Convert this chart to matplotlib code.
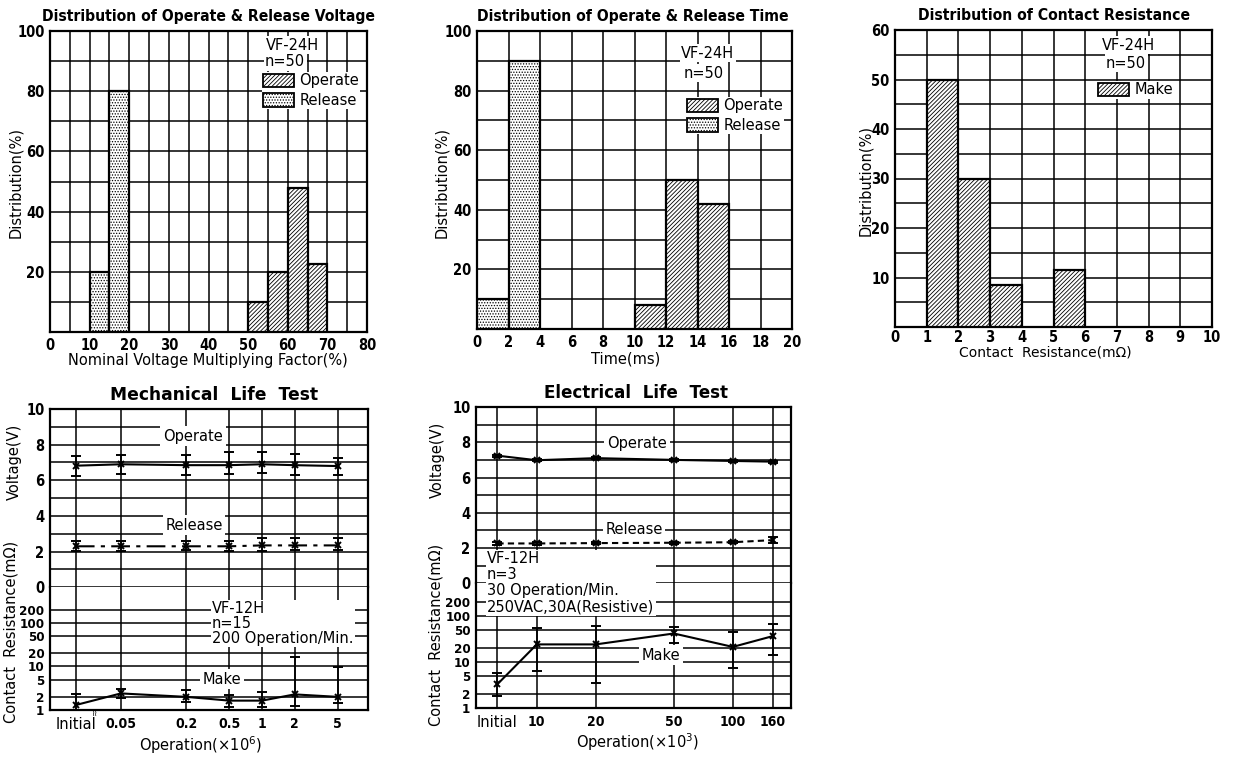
import os
import matplotlib
matplotlib.use('Agg')
import matplotlib.pyplot as plt
import matplotlib.font_manager as fm
from matplotlib.font_manager import FontProperties
from matplotlib.patches import Patch
from matplotlib.ticker import NullLocator, FixedLocator, MultipleLocator
import numpy as np

# ---------------- data ----------------
# Distribution of Operate & Release Voltage
volt_release_bins = [10, 15]
volt_release = [20, 80]
volt_operate_bins = [50, 55, 60, 65]
volt_operate = [10, 20, 48, 22.5]
volt_bin_width = 5

# Distribution of Operate & Release Time
time_release_bins = [0, 2]
time_release = [10, 90]
time_operate_bins = [10, 12, 14]
time_operate = [8, 50, 42]
time_bin_width = 2

# Distribution of Contact Resistance
res_bins = [1, 2, 3, 5]
res_make = [50, 30, 8.5, 11.5]
res_bin_width = 1

# Mechanical Life Test
mech_labels = ['Initial', '0.05', '0.2', '0.5', '1', '2', '5']
mech_x = [0.0192, 0.05, 0.2, 0.5, 1, 2, 5]
mech_op = [6.82, 6.9, 6.85, 6.85, 6.9, 6.85, 6.8]
mech_op_lo = [6.27, 6.35, 6.31, 6.35, 6.39, 6.31, 6.31]
mech_op_hi = [7.38, 7.43, 7.4, 7.57, 7.6, 7.47, 7.25]
mech_rel = [2.3, 2.3, 2.3, 2.3, 2.35, 2.35, 2.35]
mech_rel_lo = [2.05, 2.05, 2.1, 2.05, 2.05, 2.1, 2.1]
mech_rel_hi = [2.6, 2.6, 2.6, 2.6, 2.75, 2.77, 2.77]
mech_make = [1.3, 2.4, 2.0, 1.64, 1.64, 2.28, 2.0]
mech_make_lo = [1.0, 1.85, 1.55, 1.2, 1.2, 1.23, 1.47]
mech_make_hi = [2.28, 3.1, 2.8, 2.2, 2.6, 16, 9.8]

# Electrical Life Test
elec_labels = ['Initial', '10', '20', '50', '100', '160']
elec_x = [6.3, 10, 20, 50, 100, 160]
elec_op = [7.24, 6.98, 7.1, 7.0, 6.94, 6.9]
elec_op_lo = [7.18, 6.92, 7.05, 6.95, 6.88, 6.84]
elec_op_hi = [7.3, 7.04, 7.15, 7.05, 7.0, 6.96]
elec_rel = [2.26, 2.26, 2.28, 2.3, 2.33, 2.45]
elec_rel_lo = [2.2, 2.2, 2.22, 2.24, 2.27, 2.3]
elec_rel_hi = [2.32, 2.32, 2.34, 2.36, 2.39, 2.64]
elec_make = [3.27, 23.8, 23.8, 41, 21, 36]
elec_make_lo = [1.8, 6.3, 3.5, 26, 7.5, 14]
elec_make_hi = [5.6, 53, 60, 56, 45, 65]

# ---------------- fonts ----------------
plt.rcParams['font.family'] = ['DejaVu Sans']
plt.rcParams['hatch.linewidth'] = 0.6


def find_condensed_bold():
    prefs = ['dejavusanscondensed-bold', 'liberationsansnarrow-bold', 'robotocondensed-bold',
             'opensans_condensed-bold', 'opensanscondensed-bold']
    files = [f.fname for f in fm.fontManager.ttflist]
    base = {os.path.basename(p).lower().replace(' ', ''): p for p in files}
    for pref in prefs:
        for b, p in base.items():
            if b.startswith(pref) and 'italic' not in b and 'oblique' not in b:
                return p
    for b, p in base.items():
        if ('condensed' in b or 'narrow' in b) and 'bold' in b and 'italic' not in b \
                and 'oblique' not in b and 'semi' not in b and 'extra' not in b:
            return p
    return None


COND_PATH = find_condensed_bold()


def cond_fp(size):
    if COND_PATH:
        return FontProperties(fname=COND_PATH, size=size)
    return FontProperties(family='DejaVu Sans', weight='bold', size=size * 0.85)


W, H = 1233, 757
fig = plt.figure(figsize=(W / 100, H / 100), dpi=100)
renderer = fig.canvas.get_renderer()
GRID_LW = 1.1


def rect(l, t, r, b):
    return [l / W, 1 - b / H, (r - l) / W, (b - t) / H]


def fx(px):
    return px / W


def fy(py):
    return 1 - py / H


def fit_title(x, y, s, target_w, fp):
    t = fig.text(fx(x), fy(y), s, ha='center', va='center', fontproperties=fp)
    w = t.get_window_extent(renderer).width
    fp2 = fp.copy()
    fp2.set_size(fp.get_size() * target_w / w)
    t.set_fontproperties(fp2)
    return t


def style_ticks(ax, size=9.5, pad=4):
    ax.tick_params(which='both', length=0, pad=pad)
    for lab in ax.get_xticklabels() + ax.get_yticklabels():
        lab.set_fontproperties(cond_fp(size))
    for s in ax.spines.values():
        s.set_linewidth(1.6)


def hist_panel(r, xlim, xmaj, xmin_step, ylim, ymaj, ymin_step):
    ax = fig.add_axes(r)
    ax.set_xlim(*xlim)
    ax.set_ylim(*ylim)
    ax.set_xticks(xmaj)
    ax.set_yticks(ymaj)
    ax.xaxis.set_minor_locator(MultipleLocator(xmin_step))
    ax.yaxis.set_minor_locator(MultipleLocator(ymin_step))
    ax.grid(which='both', color='black', lw=GRID_LW)
    ax.set_axisbelow(True)
    style_ticks(ax, 10.5)
    return ax


HATCH_OP = '////////'
HATCH_REL = '......'
bar_kw = dict(align='edge', facecolor='white', edgecolor='black', linewidth=1.6, zorder=3)
LBL = 10.5

# common title font for the three histogram panels (sized on the third title)
t3 = fit_title(1054, 15, 'Distribution of Contact Resistance', 273, cond_fp(13))
TOP_FP = t3.get_fontproperties()

# ---- Panel 1 ----
ax1 = hist_panel(rect(50, 31, 367, 332), (0, 80), list(range(0, 81, 10)), 5,
                 (0, 100), [20, 40, 60, 80, 100], 10)
ax1.bar(volt_release_bins, volt_release, width=volt_bin_width, hatch=HATCH_REL, **bar_kw)
ax1.bar(volt_operate_bins, volt_operate, width=volt_bin_width, hatch=HATCH_OP, **bar_kw)
fig.text(fx(208), fy(16), 'Distribution of Operate & Release Voltage', ha='center', va='center',
         fontproperties=TOP_FP)
fig.text(fx(208), fy(361), 'Nominal Voltage Multiplying Factor(%)', ha='center', va='center', size=LBL)
fig.text(fx(16), fy(183), 'Distribution(%)', ha='center', va='center', rotation=90, size=LBL)

# ---- Panel 2 ----
ax2 = hist_panel(rect(477, 31, 792, 329), (0, 20), list(range(0, 21, 2)), 2,
                 (0, 100), [20, 40, 60, 80, 100], 10)
ax2.bar(time_release_bins, time_release, width=time_bin_width, hatch=HATCH_REL, **bar_kw)
ax2.bar(time_operate_bins, time_operate, width=time_bin_width, hatch=HATCH_OP, **bar_kw)
fig.text(fx(633), fy(16), 'Distribution of Operate & Release Time', ha='center', va='center',
         fontproperties=TOP_FP)
fig.text(fx(626), fy(359), 'Time(ms)', ha='center', va='center', size=LBL)
fig.text(fx(442), fy(183), 'Distribution(%)', ha='center', va='center', rotation=90, size=LBL)

# ---- Panel 3 ----
ax3 = hist_panel(rect(895, 30, 1212, 327), (0, 10), list(range(0, 11)), 1,
                 (0, 60), [10, 20, 30, 40, 50, 60], 5)
ax3.tick_params(axis='x', pad=2)
ax3.bar(res_bins, res_make, width=res_bin_width, hatch=HATCH_OP, **bar_kw)
fig.text(fx(1045), fy(353), 'Contact  Resistance(m\u03a9)', ha='center', va='center', size=10)
fig.text(fx(866), fy(180), 'Distribution(%)', ha='center', va='center', rotation=90, size=LBL)

# legends / annotations for histograms
txt_box = dict(facecolor='white', edgecolor='none', pad=1)
fig.text(fx(266), fy(45), 'VF-24H', ha='left', va='center', size=10.5, bbox=txt_box)
fig.text(fx(265), fy(62), 'n=50', ha='left', va='center', size=10.5, bbox=txt_box)
fig.text(fx(681), fy(53), 'VF-24H', ha='left', va='center', size=10.5, bbox=txt_box)
fig.text(fx(684), fy(73), 'n=50', ha='left', va='center', size=10.5, bbox=txt_box)
fig.text(fx(1102), fy(45), 'VF-24H', ha='left', va='center', size=10.5, bbox=txt_box)
fig.text(fx(1106), fy(63), 'n=50', ha='left', va='center', size=10.5, bbox=txt_box)

h_op = Patch(facecolor='white', edgecolor='black', hatch=HATCH_OP, lw=1.3, label='Operate')
h_rel = Patch(facecolor='white', edgecolor='black', hatch=HATCH_REL, lw=1.3, label='Release')
h_make = Patch(facecolor='white', edgecolor='black', hatch=HATCH_OP, lw=1.3, label='Make')
leg_kw = dict(loc='upper left', fontsize=10.5, frameon=True, fancybox=False, framealpha=1,
              edgecolor='none', facecolor='white', handlelength=2.1, handleheight=1.05,
              handletextpad=0.35, labelspacing=0.3, borderpad=0.1, borderaxespad=0)
l1 = ax1.legend(handles=[h_op, h_rel], bbox_to_anchor=((262 - 50) / 317, 1 - (72 - 31) / 301), **leg_kw)
l1.set_zorder(5)
l2 = ax2.legend(handles=[h_op, h_rel], bbox_to_anchor=((686 - 477) / 315, 1 - (97 - 31) / 298), **leg_kw)
l2.set_zorder(5)
l3 = ax3.legend(handles=[h_make], bbox_to_anchor=((1097 - 895) / 317, 1 - (81 - 30) / 297), **leg_kw)
l3.set_zorder(5)


# ---------------- life test panels ----------------
def life_panel(l, r, t, mid, b, x, labels, xlim, rtop):
    axv = fig.add_axes(rect(l, t, r, mid))
    axr = fig.add_axes(rect(l, mid, r, b))
    for ax in (axv, axr):
        ax.set_xscale('log')
        ax.set_xlim(*xlim)
        ax.xaxis.set_major_locator(FixedLocator(x))
        ax.xaxis.set_minor_locator(NullLocator())
    axv.set_ylim(0, 10)
    axv.set_yticks([0, 2, 4, 6, 8, 10])
    axv.yaxis.set_minor_locator(MultipleLocator(1))
    axv.set_xticklabels([])
    axr.set_yscale('log')
    axr.set_ylim(1, rtop)
    axr.yaxis.set_major_locator(FixedLocator([1, 2, 5, 10, 20, 50, 100, 200]))
    axr.yaxis.set_minor_locator(NullLocator())
    axr.set_yticklabels(['1', '2', '5', '10', '20', '50', '100', '200'])
    axr.set_xticklabels(labels)
    for ax in (axv, axr):
        ax.grid(which='both', color='black', lw=GRID_LW)
        ax.set_axisbelow(True)
    style_ticks(axv, 10.5)
    style_ticks(axr, 9.5)
    axv.spines['bottom'].set_visible(False)
    axr.spines['top'].set_visible(False)
    axr.tick_params(axis='x', pad=5)
    for lab in axr.get_xticklabels():
        lab.set_fontproperties(cond_fp(10))
    axr.get_xticklabels()[0].set_fontproperties(FontProperties(family='DejaVu Sans', size=10.5))
    return axv, axr


err_kw = dict(color='black', marker='x', ms=5, mew=1.4, capsize=3.5, capthick=1.3,
              elinewidth=1.2, lw=1.5, zorder=4)


def yerr(v, lo, hi):
    v, lo, hi = map(np.asarray, (v, lo, hi))
    return [v - lo, hi - v]


white = dict(facecolor='white', edgecolor='none', pad=2)

# ---- Panel 4: Mechanical ----
m_v, m_r = life_panel(50, 368, 409, 587.3, 710, mech_x, mech_labels, (0.0111, 9.5), 650)
m_v.errorbar(mech_x, mech_op, yerr=yerr(mech_op, mech_op_lo, mech_op_hi), ls='-', **err_kw)
m_v.errorbar(mech_x, mech_rel, yerr=yerr(mech_rel, mech_rel_lo, mech_rel_hi),
             ls=(0, (9, 3, 2, 3)), **err_kw)
m_r.errorbar(mech_x, mech_make, yerr=yerr(mech_make, mech_make_lo, mech_make_hi), ls='-', **err_kw)
fit_title(214, 395, 'Mechanical  Life  Test', 208, FontProperties(family='DejaVu Sans', weight='bold', size=14))
fig.text(fx(200), fy(745), 'Operation(\u00d710$^6$)', ha='center', va='center', size=LBL)
fig.text(fx(14), fy(462), 'Voltage(V)', ha='center', va='center', rotation=90, size=LBL)
fig.text(fx(11), fy(632), 'Contact  Resistance(m\u03a9)', ha='center', va='center', rotation=90, size=LBL)
fig.text(fx(193), fy(436), 'Operate', ha='center', va='center', size=LBL, bbox=white)
fig.text(fx(194), fy(525), 'Release', ha='center', va='center', size=LBL, bbox=white)
fig.text(fx(212), fy(601), 'VF-12H\nn=15\n200 Operation/Min.', ha='left', va='top', size=LBL,
         linespacing=1.0, bbox=dict(facecolor='white', edgecolor='none', pad=1))
fig.text(fx(222), fy(679), 'Make', ha='center', va='center', size=LBL, bbox=white)
fig.text(fx(94), fy(713), '\u2240\u2240', ha='center', va='center', size=6)

# ---- Panel 5: Electrical ----
e_v, e_r = life_panel(476, 791, 407, 583.3, 708, elec_x, elec_labels, (4.9, 198), 500)
e_v.errorbar(elec_x, elec_op, yerr=yerr(elec_op, elec_op_lo, elec_op_hi), ls='-', **err_kw)
e_v.errorbar(elec_x, elec_rel, yerr=yerr(elec_rel, elec_rel_lo, elec_rel_hi),
             ls=(0, (3, 2)), **err_kw)
e_r.errorbar(elec_x, elec_make, yerr=yerr(elec_make, elec_make_lo, elec_make_hi), ls='-', **err_kw)
fit_title(636, 393, 'Electrical  Life  Test', 185, FontProperties(family='DejaVu Sans', weight='bold', size=14))
fig.text(fx(637), fy(742), 'Operation(\u00d710$^3$)', ha='center', va='center', size=LBL)
fig.text(fx(437), fy(460), 'Voltage(V)', ha='center', va='center', rotation=90, size=LBL)
fig.text(fx(436), fy(635), 'Contact  Resistance(m\u03a9)', ha='center', va='center', rotation=90, size=LBL)
fig.text(fx(637), fy(443), 'Operate', ha='center', va='center', size=LBL, bbox=white)
fig.text(fx(634), fy(529), 'Release', ha='center', va='center', size=LBL, bbox=white)
fig.text(fx(487), fy(551), 'VF-12H\nn=3\n30 Operation/Min.\n250VAC,30A(Resistive)', ha='left', va='top',
         size=LBL, linespacing=1.1, bbox=dict(facecolor='white', edgecolor='none', pad=1))
fig.text(fx(661), fy(655), 'Make', ha='center', va='center', size=LBL, bbox=white)

fig.savefig('out.png', dpi=100)
